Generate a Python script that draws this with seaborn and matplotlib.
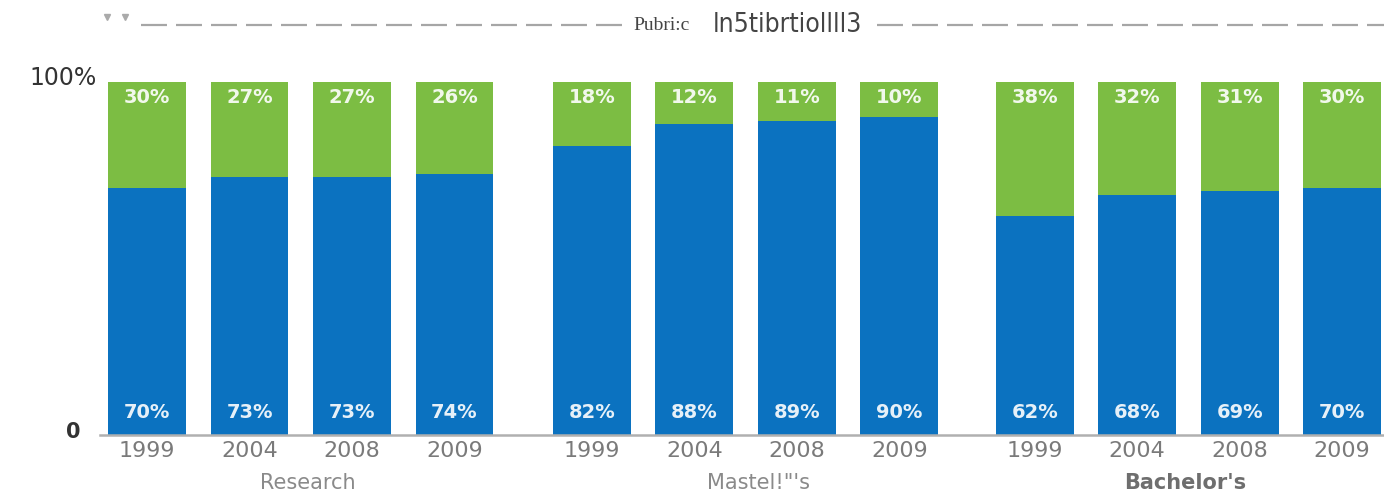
import matplotlib
matplotlib.use("Agg")
import matplotlib.pyplot as plt
import seaborn as sns
import pandas as pd
from matplotlib.lines import Line2D
from matplotlib.transforms import blended_transform_factory

# ---- data ----
groups = ["Research", "Mastel!\"'s", "Bachelor's"]
years = ["1999", "2004", "2008", "2009"]
blue_research = [70, 73, 73, 74]
green_research = [30, 27, 27, 26]
blue_masters = [82, 88, 89, 90]
green_masters = [18, 12, 11, 10]
blue_bachelors = [62, 68, 69, 70]
green_bachelors = [38, 32, 31, 30]
title_part1 = "Pubri:c"
title_part2 = "ln5tibrtiollll3"

blue_all = blue_research + blue_masters + blue_bachelors
green_all = green_research + green_masters + green_bachelors

# ---- layout ----
group_offsets = [0.0, 4.34, 8.66]
positions = [g + i for g in group_offsets for i in range(len(years))]
df = pd.DataFrame({
    "pos": positions,
    "blue": blue_all,
    "green": green_all,
    "total": [b + g for b, g in zip(blue_all, green_all)],
    "year": years * len(groups),
})

BLUE = "#0b72c0"
GREEN = "#7cbd43"

sns.set_theme(style="white")
plt.rcParams["font.family"] = ["DejaVu Sans"]
plt.rcParams["lines.scale_dashes"] = False

fig = plt.figure(figsize=(13.84, 4.92), dpi=100)
W, H = 1384, 492
ax = fig.add_axes([100 / W, 57 / H, 1284 / W, 353 / H])

sns.barplot(data=df, x="pos", y="total", native_scale=True, color=GREEN,
            saturation=1, width=0.76, errorbar=None, ax=ax, linewidth=0)
sns.barplot(data=df, x="pos", y="blue", native_scale=True, color=BLUE,
            saturation=1, width=0.76, errorbar=None, ax=ax, linewidth=0)

px_per_unit = 102.5
x0_px = 147
ax.set_xlim((100 - x0_px) / px_per_unit, (1384 - x0_px) / px_per_unit)
ax.set_ylim(0, 100)

for p, b, g in zip(df["pos"], df["blue"], df["green"]):
    ax.text(p, 95.7, f"{g}%", ha="center", va="center", color="white",
            alpha=0.9, fontsize=14, fontweight="bold")
    ax.text(p, 6.3, f"{b}%", ha="center", va="center", color="white",
            alpha=0.9, fontsize=14, fontweight="bold")

ax.set_xticks(positions)
ax.set_xticklabels(df["year"], fontsize=16, color="#7a7a7a")
ax.tick_params(axis="x", length=0, pad=4)
ax.set_yticks([])
ax.set_xlabel("")
ax.set_ylabel("")
for s in ["top", "right", "left"]:
    ax.spines[s].set_visible(False)
ax.spines["bottom"].set_color("#b0b0b0")
ax.spines["bottom"].set_linewidth(1.8)

# y labels
fig.text(97 / W, 1 - 78 / H, "100%", ha="right", va="center", fontsize=17, color="#333333")
fig.text(73 / W, 1 - 432 / H, "0", ha="center", va="center", fontsize=15, color="#333333", fontweight="bold")

# group labels
tr = blended_transform_factory(ax.transData, fig.transFigure)
label_centers = [1.57, 5.97, 10.13]
for gname, cx in zip(groups, label_centers):
    bold = gname.startswith("Bachelor")
    ax.text(cx, 1 - 483 / H, gname, transform=tr, ha="center", va="center",
            fontsize=15, color="#6e6e6e" if bold else "#8a8a8a",
            fontweight="bold" if bold else "normal")

# title with dashes
ty = 1 - 25 / H
fig.add_artist(Line2D([141 / W, 622 / W], [ty, ty], transform=fig.transFigure,
                      color="#a6a6a6", lw=1.6, dashes=(18.7, 6.5)))
fig.add_artist(Line2D([877 / W, 1384 / W], [ty, ty], transform=fig.transFigure,
                      color="#a6a6a6", lw=1.6, dashes=(18.7, 6.5)))
fig.text(633 / W, ty, title_part1, ha="left", va="center", fontsize=14,
         color="#444444", family=["Liberation Serif", "DejaVu Serif"])
fig.text(862 / W, ty, title_part2, ha="right", va="center", fontsize=19,
         color="#444444", family=["DejaVu Sans"], fontstretch="condensed")
for mx in (107, 125):
    fig.add_artist(Line2D([mx / W], [1 - 17 / H], transform=fig.transFigure,
                          marker="v", markersize=5, color="#aaaaaa", lw=0))

fig.savefig("out.png", dpi=100)
